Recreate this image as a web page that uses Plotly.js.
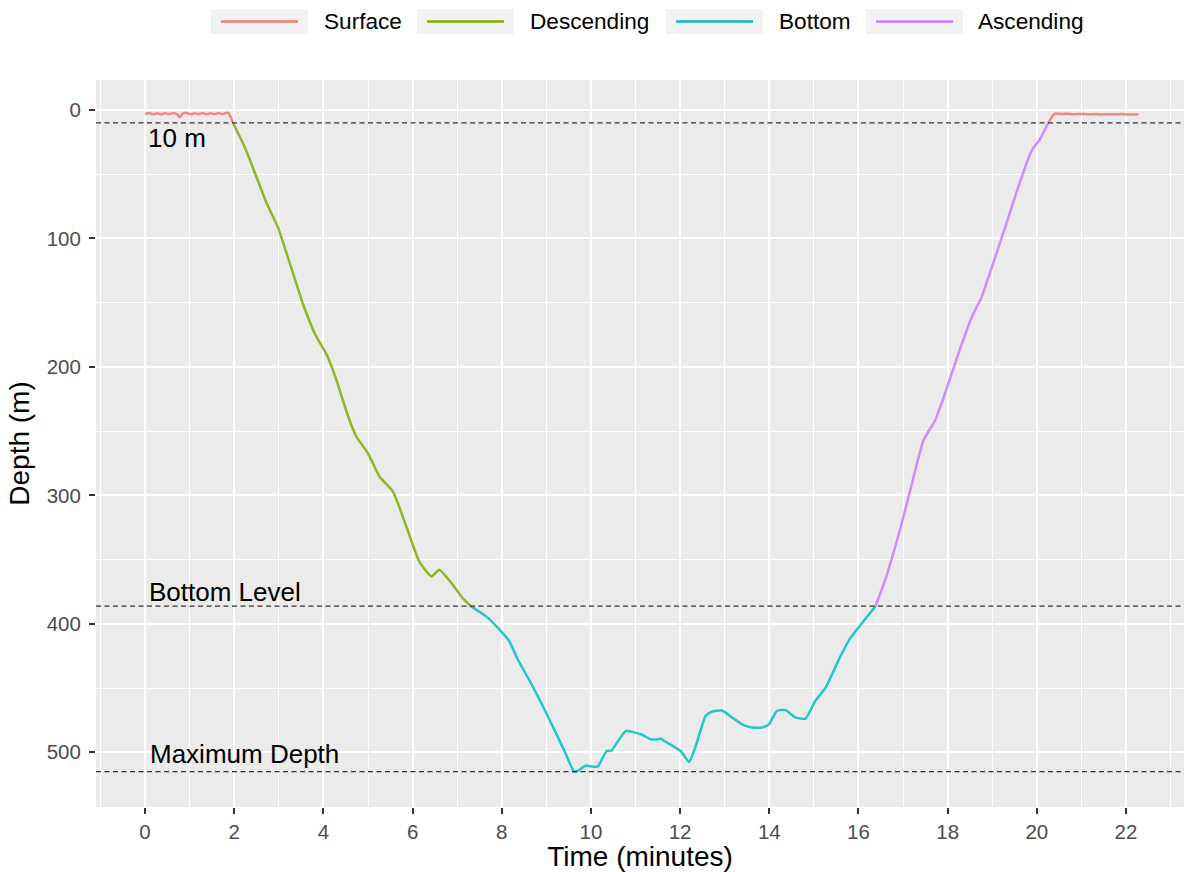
<!DOCTYPE html>
<html>
<head>
<meta charset="utf-8">
<script src="https://cdn.plot.ly/plotly-3.0.1.min.js"></script>
<style>
  html, body { margin: 0; padding: 0; background: #ffffff; }
  #chart { width: 1184px; height: 872px; }
</style>
</head>
<body>
<div id="chart"></div>
<script>
// Dive profile: time (minutes) vs depth (m), split into dive phases.

// Surface interval before the dive
const surfaceStartTime  = [0.00, 0.09, 0.18, 0.27, 0.36, 0.45, 0.54, 0.63, 0.72, 0.78, 0.84, 0.93, 1.02, 1.11, 1.20, 1.29, 1.38, 1.47, 1.56, 1.65, 1.74, 1.83, 1.88, 1.97];
const surfaceStartDepth = [3.2, 2.4, 3.5, 2.6, 3.4, 2.5, 3.3, 2.4, 3.6, 5.6, 3.0, 2.3, 3.4, 2.5, 3.3, 2.4, 3.4, 2.5, 3.3, 2.4, 3.3, 2.2, 2.6, 10.0];

// Descent phase
const descTime  = [1.97, 2.24, 2.46, 2.72, 2.98, 3.25, 3.54, 3.82, 4.08, 4.29, 4.40, 4.57, 4.74, 5.00, 5.26, 5.56, 5.86, 6.15, 6.42, 6.60, 6.90, 7.12, 7.31];
const descDepth = [10.0, 29.3, 48.7, 72.0, 91.4, 119.8, 150.9, 175.0, 191.0, 210.0, 222.0, 240.0, 254.4, 267.3, 285.5, 297.1, 324.3, 351.5, 363.1, 357.9, 369.6, 379.9, 386.4];

// Bottom phase
const bottomTime  = [7.31, 7.65, 7.95, 8.17, 8.36, 8.65, 8.92, 9.21, 9.44, 9.62, 9.70, 9.88, 10.15, 10.35, 10.45, 10.56, 10.78, 11.12, 11.34, 11.48, 11.56, 11.71, 12.01, 12.20, 12.35, 12.57, 12.70, 12.94, 13.15, 13.39, 13.58, 13.84, 13.99, 14.17, 14.36, 14.59, 14.81, 15.03, 15.26, 15.56, 15.82, 16.08, 16.23, 16.38];
const bottomDepth = [386.4, 394.2, 404.5, 413.6, 427.8, 445.9, 464.0, 484.7, 501.6, 515.0, 514.5, 510.5, 511.1, 499.0, 499.0, 493.8, 483.5, 486.0, 489.9, 490.0, 489.4, 492.5, 499.0, 507.5, 495.1, 471.8, 468.5, 467.5, 472.5, 478.3, 480.5, 480.8, 478.3, 467.9, 467.1, 473.0, 473.8, 460.1, 449.8, 427.8, 411.0, 399.3, 392.9, 386.4];

// Ascent phase
const ascTime  = [16.38, 16.60, 16.97, 17.20, 17.46, 17.72, 17.94, 18.24, 18.54, 18.76, 18.99, 19.29, 19.58, 19.88, 20.07, 20.26];
const ascDepth = [386.4, 365.7, 321.7, 290.6, 257.0, 241.5, 220.7, 189.7, 161.3, 145.7, 122.4, 91.4, 60.3, 31.8, 22.8, 9.8];

// Surface interval after the dive
const surfaceEndTime  = [20.26, 20.40, 20.55, 20.70, 20.85, 21.00, 21.15, 21.30, 21.45, 21.60, 21.75, 21.90, 22.05, 22.28];
const surfaceEndDepth = [9.8, 2.9, 3.1, 3.0, 3.3, 3.1, 3.4, 3.2, 3.5, 3.3, 3.4, 3.2, 3.5, 3.3];

// Phase names and colours
const phaseNames  = ['Surface', 'Descending', 'Bottom', 'Ascending'];
const phaseColors = ['#F8766D', '#7CAE00', '#00BFC4', '#C77CFF'];

// Tick values
const xTicks = [0, 2, 4, 6, 8, 10, 12, 14, 16, 18, 20, 22];
const yTicks = [0, 100, 200, 300, 400, 500];

// Reference depths
const surfaceThreshold = 10;
const maxDepth = Math.max(...bottomDepth);
const bottomLevel = 0.75 * maxDepth;

const FONT = 'Liberation Sans, Arial, Helvetica, sans-serif';

function phaseTrace(x, y, idx) {
  return {
    type: 'scatter', mode: 'lines', x: x, y: y,
    name: phaseNames[idx], showlegend: false, opacity: 0.85,
    line: { color: phaseColors[idx], width: 2.5, shape: 'spline', smoothing: 0.5 },
    hovertemplate: '%{x:.2f} min<br>%{y:.1f} m<extra>' + phaseNames[idx] + '</extra>'
  };
}

const traces = [
  phaseTrace(surfaceStartTime, surfaceStartDepth, 0),
  phaseTrace(surfaceEndTime, surfaceEndDepth, 0),
  phaseTrace(descTime, descDepth, 1),
  phaseTrace(bottomTime, bottomDepth, 2),
  phaseTrace(ascTime, ascDepth, 3)
];

// Plot-area geometry (pixels)
const W = 1184, H = 872;
const M = { l: 96, r: 0, t: 80, b: 65 };
const plotW = W - M.l - M.r, plotH = H - M.t - M.b;
const px2paperX = px => (px - M.l) / plotW;
const px2paperY = py => (H - M.b - py) / plotH;

// Dashed reference lines
const shapes = [surfaceThreshold, bottomLevel, maxDepth].map(d => ({
  type: 'line', xref: 'paper', x0: 0, x1: 1, yref: 'y', y0: d, y1: d,
  line: { color: '#333333', width: 1.3, dash: '5px,3.5px' }
}));

// Legend row across the top: grey key boxes with coloured lines
const keyLeft = [211, 417, 666, 866];
const textLeft = [322, 528, 777, 976];
const keyW = 97, keyTop = 9, keyBottom = 34, keyMid = 21.5;
const annotations = [];
phaseNames.forEach((name, i) => {
  shapes.push({
    type: 'rect', xref: 'paper', yref: 'paper', layer: 'above',
    x0: px2paperX(keyLeft[i]), x1: px2paperX(keyLeft[i] + keyW),
    y0: px2paperY(keyBottom), y1: px2paperY(keyTop),
    fillcolor: '#F2F2F2', line: { width: 0 }
  });
  shapes.push({
    type: 'line', xref: 'paper', yref: 'paper', layer: 'above',
    x0: px2paperX(keyLeft[i] + 10), x1: px2paperX(keyLeft[i] + keyW - 10),
    y0: px2paperY(keyMid), y1: px2paperY(keyMid),
    line: { color: phaseColors[i], width: 2.6 }
  });
  annotations.push({
    xref: 'paper', yref: 'paper', x: px2paperX(textLeft[i]), y: px2paperY(keyMid),
    xanchor: 'left', yanchor: 'middle', showarrow: false, text: name,
    font: { family: FONT, size: 22.6, color: '#000000' }
  });
});

// Labels for the reference lines
const labelFont = { family: FONT, size: 26, color: '#000000' };
annotations.push(
  { x: 0.02, y: surfaceThreshold + 11.5, xref: 'x', yref: 'y', xanchor: 'left', yanchor: 'middle', showarrow: false, text: '10 m', font: labelFont },
  { x: 0.05, y: bottomLevel - 11, xref: 'x', yref: 'y', xanchor: 'left', yanchor: 'middle', showarrow: false, text: 'Bottom Level', font: labelFont },
  { x: 0.06, y: maxDepth - 14, xref: 'x', yref: 'y', xanchor: 'left', yanchor: 'middle', showarrow: false, text: 'Maximum Depth', font: labelFont }
);

const axisCommon = {
  showgrid: true, gridcolor: '#FFFFFF', gridwidth: 2.2,
  zeroline: false, showline: false,
  ticks: 'outside', ticklen: 6, tickwidth: 2, tickcolor: '#333333',
  tickfont: { family: FONT, size: 20.5, color: '#4D4D4D' }
};

const layout = {
  width: W, height: H,
  margin: M,
  paper_bgcolor: '#FFFFFF',
  plot_bgcolor: '#EBEBEB',
  font: { family: FONT },
  showlegend: false,
  xaxis: Object.assign({}, axisCommon, {
    range: [-1.1, 23.3],
    tickmode: 'array', tickvals: xTicks, ticktext: xTicks.map(String),
    ticklabelstandoff: 0,
    minor: { dtick: 1, tick0: 0, showgrid: true, gridcolor: '#FFFFFF', gridwidth: 1.1, ticks: '' },
    title: { text: 'Time (minutes)', font: { family: FONT, size: 28, color: '#000000' }, standoff: 9 }
  }),
  yaxis: Object.assign({}, axisCommon, {
    range: [542.6, -23.3],
    tickmode: 'array', tickvals: yTicks, ticktext: yTicks.map(String),
    ticklabelstandoff: 4,
    minor: { dtick: 50, tick0: 0, showgrid: true, gridcolor: '#FFFFFF', gridwidth: 1.1, ticks: '' },
    title: { text: 'Depth (m)', font: { family: FONT, size: 28, color: '#000000' }, standoff: 8 }
  }),
  shapes: shapes,
  annotations: annotations
};

Plotly.newPlot('chart', traces, layout, { displayModeBar: false, responsive: false });
</script>
</body>
</html>
